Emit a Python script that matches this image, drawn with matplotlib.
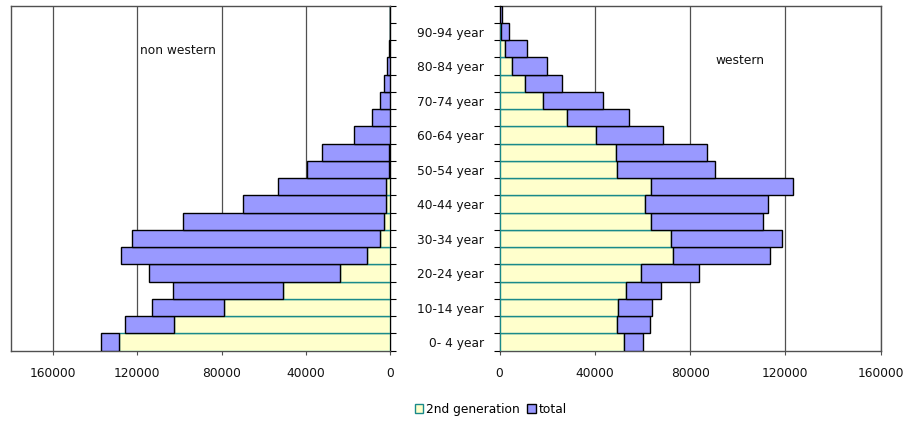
import matplotlib
matplotlib.use("Agg")
import matplotlib.pyplot as plt
from matplotlib.patches import Patch
from matplotlib.ticker import FixedLocator, NullFormatter

categories = ["0- 4 year", "5- 9 year", "10-14 year", "15-19 year", "20-24 year",
              "25-29 year", "30-34 year", "35-39 year", "40-44 year", "45-49 year",
              "50-54 year", "55-59 year", "60-64 year", "65-69 year", "70-74 year",
              "75-79 year", "80-84 year", "85-89 year", "90-94 year", "95+ year"]

nonwestern_total = [137100, 126000, 113200, 103200, 114300, 127600, 122500, 98100,
                    69800, 53200, 39400, 32100, 17100, 8700, 4900, 2700, 1600, 500, 150, 50]
nonwestern_2nd = [128500, 102600, 78700, 50800, 23700, 10900, 4750, 2850,
                  1700, 1700, 300, 300, 150, 100, 50, 30, 20, 10, 5, 0]

western_total = [60200, 63200, 64100, 67700, 83800, 113700, 118600, 110800,
                 112700, 123100, 90600, 87300, 68600, 54300, 43600, 26200, 19900, 11600, 3800, 900]
western_2nd = [52400, 49300, 49900, 52900, 59400, 73000, 72100, 63700,
               61200, 63700, 49400, 49000, 40600, 28300, 18350, 10500, 5040, 2400, 700, 200]

x_ticks = [0, 40000, 80000, 120000, 160000]

YELLOW = "#FFFFCC"
TEAL = "#1A8A8A"
BLUE = "#9999FF"
FRAME = "#505050"

fig = plt.figure(figsize=(9.08, 4.23), dpi=100)
axL = fig.add_axes([11 / 908, 1 - 350.7 / 423, 379 / 908, 345 / 423])
axR = fig.add_axes([499.5 / 908, 1 - 350.7 / 423, 381.2 / 908, 345 / 423])

n = len(categories)
ypos = list(range(n))

def draw(ax, second, total):
    ax.barh(ypos, second, height=1.0, color=YELLOW, edgecolor=TEAL, linewidth=1.0, zorder=3)
    widths = [t - s for t, s in zip(total, second)]
    ax.barh(ypos, widths, left=second, height=1.0, color=BLUE, edgecolor="black",
            linewidth=1.0, zorder=4)
    ax.set_ylim(-0.5, n - 0.5)
    ax.xaxis.set_major_locator(FixedLocator(x_ticks))
    ax.set_xticklabels([str(v) for v in x_ticks], fontsize=8.8, color="#111111")
    ax.grid(axis="x", color=FRAME, linewidth=0.9, zorder=1)
    ax.grid(axis="y", visible=False)
    for s in ax.spines.values():
        s.set_color(FRAME)
        s.set_linewidth(1.0)
    ax.tick_params(axis="x", length=3, width=0.8, color=FRAME, pad=9)
    ax.yaxis.set_minor_locator(FixedLocator([i - 0.5 for i in range(n + 1)]))
    ax.yaxis.set_minor_formatter(NullFormatter())

draw(axL, nonwestern_2nd, nonwestern_total)
draw(axR, western_2nd, western_total)

axL.set_xlim(180000, 0)
axR.set_xlim(0, 160000)

# left: ticks on right side, no labels
axL.yaxis.tick_right()
axL.set_yticks(ypos)
axL.set_yticklabels([])
axL.tick_params(axis="y", which="major", length=0)
axL.tick_params(axis="y", which="minor", length=4, width=0.8, color="black", right=True, left=False)
axL.spines["right"].set_color("black")

# right: labels at left, every other category
axR.set_yticks(ypos[::2])
axR.set_yticklabels(categories[::2], fontsize=8.8, color="#111111")
axR.tick_params(axis="y", which="major", length=0, pad=11)
axR.tick_params(axis="y", which="minor", length=4, width=0.8, color="black", left=True)
axR.spines["left"].set_color("black")

axL.text(0.4406, 0.8696, "non western", transform=axL.transAxes, ha="center", va="center",
         fontsize=8.8, color="#111111", zorder=6)
axR.text(0.6296, 0.8426, "western", transform=axR.transAxes, ha="center", va="center",
         fontsize=8.8, color="#111111", zorder=6)

handles = [Patch(facecolor=YELLOW, edgecolor=TEAL, linewidth=1.0, label="2nd generation"),
           Patch(facecolor=BLUE, edgecolor="black", linewidth=1.0, label="total")]
fig.legend(handles=handles, loc="center", bbox_to_anchor=(491 / 908, 1 - 409 / 423), ncol=2,
           frameon=False, fontsize=8.8, handlelength=0.7, handleheight=0.7,
           handletextpad=0.25, columnspacing=0.6)

fig.savefig("out.png", dpi=100)
